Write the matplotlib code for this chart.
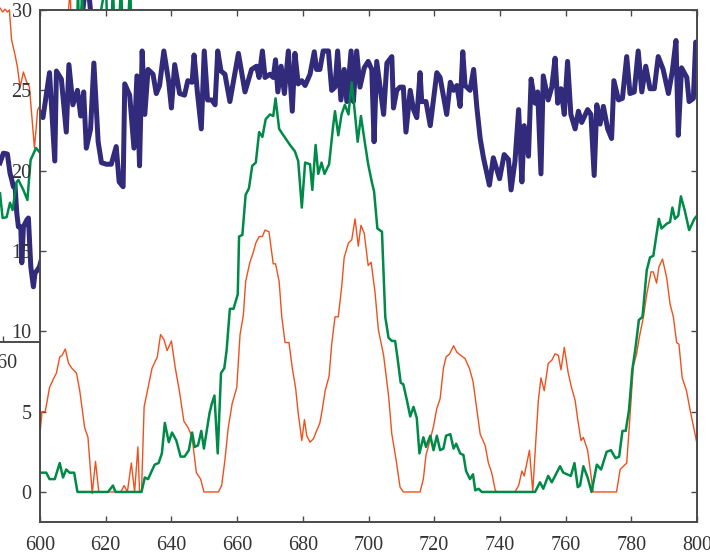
import matplotlib.pyplot as plt

plt.rcParams['font.family'] = ['Liberation Serif', 'DejaVu Serif']

# --- zoomed window (600-800) ---
blue_x = [600.0, 600.9, 602.9, 604.5, 605.0, 606.5, 608.0, 608.8, 610.0, 611.4, 612.4, 613.3,
          614.1, 615.4, 616.4, 617.7, 618.7, 620.2, 621.7, 623.2, 624.1, 625.3, 625.8, 627.3,
          628.6, 629.5, 630.3, 631.1, 631.9, 632.9, 634.4, 635.4, 636.4, 637.7, 639.2, 640.0,
          641.0, 642.5, 644.0, 645.0, 646.3, 646.9, 647.9, 649.1, 650.0, 651.0, 652.3, 653.3,
          654.1, 655.1, 656.3, 657.8, 660.4, 662.4, 664.4, 665.9, 666.7, 667.7, 668.5, 670.0,
          671.0, 671.7, 672.4, 673.4, 674.4, 675.6, 676.8, 677.6, 678.6, 679.7, 680.7, 682.2,
          683.5, 684.2, 685.2, 686.2, 687.8, 688.8, 689.8, 690.6, 691.6, 692.6, 693.4, 694.7,
          695.4, 696.4, 697.4, 698.7, 699.9, 701.0, 701.7, 702.5, 704.6, 705.6, 707.1, 707.6,
          708.6, 709.6, 710.6, 711.4, 712.7, 713.7, 714.7, 715.7, 716.2, 717.5, 718.8, 720.8,
          721.8, 723.8, 724.9, 725.9, 726.9, 727.9, 728.7, 729.4, 730.9, 732.0, 733.0, 734.0,
          735.0, 736.8, 738.0, 739.9, 741.3, 742.6, 743.4, 744.6, 745.7, 746.7, 747.4, 748.7,
          749.5, 750.7, 751.5, 752.5, 753.2, 754.7, 755.8, 756.8, 757.6, 758.6, 759.6, 760.6,
          761.6, 762.9, 763.9, 764.9, 766.7, 767.7, 768.7, 769.5, 770.5, 771.5, 772.8, 774.0,
          774.7, 776.1, 777.3, 778.6, 779.6, 780.9, 782.1, 783.2, 784.4, 785.7, 787.0, 788.2,
          789.7, 791.3, 792.5, 793.6, 794.3, 795.3, 796.9, 797.6, 798.9, 799.6, 800.0]
blue_y = [23.6, 23.3, 26.1, 20.6, 26.2, 25.7, 22.4, 26.6, 24.1, 25.0, 23.4, 24.9,
          21.4, 22.6, 26.7, 21.8, 20.5, 20.4, 20.4, 21.5, 19.3, 19.0, 25.4, 24.7,
          21.4, 25.9, 20.3, 27.45, 23.5, 26.3, 26.0, 24.8, 25.3, 27.45, 25.5, 23.9,
          26.6, 24.8, 24.7, 25.6, 25.5, 27.2, 24.9, 22.6, 27.45, 24.4, 24.4, 24.1,
          27.45, 26.2, 26.0, 24.3, 27.3, 24.9, 26.3, 26.5, 25.8, 27.45, 25.8, 26.0,
          25.8, 26.9, 24.9, 26.5, 24.8, 27.45, 23.7, 27.3, 25.4, 25.6, 25.3, 26.0,
          27.4, 26.3, 26.3, 27.45, 27.45, 25.0, 25.2, 27.45, 24.4, 26.3, 24.3, 27.45,
          24.3, 27.45, 25.2, 26.4, 26.8, 26.3, 21.8, 26.8, 23.5, 26.7, 27.1, 23.9,
          25.0, 25.2, 25.2, 22.4, 25.0, 23.8, 23.3, 26.1, 24.3, 24.3, 22.8, 26.1,
          25.8, 23.5, 25.5, 25.0, 25.3, 24.0, 27.4, 25.3, 25.0, 26.3, 23.9, 22.0,
          20.8, 19.1, 20.8, 19.5, 21.0, 20.7, 18.8, 20.6, 23.8, 19.3, 22.8, 20.9,
          25.7, 24.2, 24.9, 19.8, 25.9, 24.4, 25.2, 27.0, 24.2, 25.1, 23.5, 26.8,
          23.5, 22.6, 23.7, 23.0, 23.8, 23.5, 19.7, 24.1, 22.9, 24.0, 22.6, 22.0,
          25.6, 24.4, 24.5, 27.1, 24.8, 24.9, 27.45, 24.9, 26.5, 25.1, 25.1, 27.1,
          26.3, 24.8, 26.2, 28.1, 22.2, 26.4, 25.8, 24.3, 24.5, 28.0, 28.0]

green_x = [600.0, 601.9, 602.9, 604.5, 606.0, 607.0, 608.0, 609.0, 610.4, 611.4, 620.7, 622.2,
           623.0, 630.9, 631.9, 632.9, 634.9, 636.1, 637.1, 638.0, 639.2, 640.2, 641.5, 642.8,
           644.0, 645.3, 646.3, 647.1, 648.1, 649.1, 649.9, 651.6, 652.3, 653.1, 654.1, 655.1,
           656.1, 656.8, 657.8, 658.9, 660.2, 660.6, 661.6, 662.6, 663.6, 664.6, 665.7, 666.7,
           667.7, 668.7, 670.0, 671.0, 671.7, 672.8, 674.1, 676.1, 677.6, 678.6, 679.7, 680.7,
           682.2, 682.9, 683.9, 684.7, 685.7, 686.6, 688.0, 689.3, 689.8, 690.8, 691.8, 692.8,
           693.9, 694.9, 695.9, 696.7, 697.7, 698.7, 699.9, 701.0, 701.7, 702.7, 704.1, 705.1,
           706.1, 707.1, 708.1, 708.8, 709.8, 710.6, 711.7, 712.7, 713.7, 714.7, 715.5, 716.7,
           717.5, 718.8, 719.8, 720.8, 721.8, 722.8, 723.6, 724.9, 725.9, 726.7, 727.9, 728.9,
           729.7, 730.9, 731.8, 732.5, 733.5, 734.5, 750.7, 752.2, 753.2, 754.7, 755.8, 756.8,
           758.3, 759.3, 761.6, 762.7, 763.7, 764.4, 765.4, 766.7, 767.9, 769.5, 770.8, 772.5,
           773.8, 775.2, 776.3, 777.3, 778.3, 779.3, 780.3, 781.3, 782.3, 783.4, 784.7, 785.7,
           786.7, 788.4, 789.2, 790.8, 791.8, 792.5, 793.3, 794.3, 795.1, 796.3, 797.6, 799.2,
           800.0]
green_y = [1.2, 1.2, 0.8, 0.8, 1.8, 0.9, 1.4, 1.2, 1.2, 0.0, 0.0, 0.4,
           0.0, 0.0, 0.9, 0.8, 1.7, 1.8, 2.4, 4.3, 3.1, 3.7, 3.2, 2.2,
           2.2, 2.6, 3.7, 2.8, 2.9, 3.8, 2.7, 4.9, 5.5, 6.0, 2.4, 7.4,
           7.7, 8.8, 11.4, 11.4, 12.3, 15.9, 16.0, 18.5, 18.9, 20.3, 20.5, 22.4,
           22.1, 23.2, 23.5, 23.4, 24.5, 22.6, 22.2, 21.6, 21.2, 20.6, 17.7, 20.5,
           20.4, 18.8, 21.6, 19.8, 20.5, 19.8, 20.4, 22.9, 23.7, 22.2, 23.5, 24.1,
           23.5, 25.5, 23.5, 21.8, 23.4, 22.0, 20.4, 19.3, 18.7, 16.4, 16.2, 10.9,
           9.6, 9.4, 9.4, 8.4, 6.8, 6.7, 5.7, 4.7, 5.3, 4.6, 2.4, 3.4,
           2.8, 3.5, 2.6, 3.5, 2.6, 2.7, 3.5, 3.6, 2.7, 3.0, 2.4, 2.3,
           1.3, 0.8, 1.1, 0.1, 0.2, 0.0, 0.0, 0.6, 0.2, 1.0, 0.6, 1.0,
           1.6, 1.2, 1.0, 1.8, 0.3, 0.4, 1.6, 0.9, 0.0, 1.7, 1.4, 2.5,
           2.6, 2.1, 2.2, 3.8, 3.8, 5.1, 7.6, 9.0, 10.7, 10.9, 13.8, 14.6,
           14.7, 17.0, 16.4, 16.7, 16.8, 17.7, 17.0, 17.2, 18.4, 17.5, 16.3, 17.0,
           17.2]

orange_x = [600.0, 600.6, 601.6, 602.9, 604.0, 605.0, 606.0, 606.7, 607.7, 608.7, 609.7, 611.1,
            612.1, 613.6, 614.6, 615.9, 616.9, 617.9, 624.6, 625.6, 626.6, 627.8, 628.8, 629.8,
            630.3, 630.9, 631.7, 632.9, 634.1, 635.7, 636.7, 637.7, 638.7, 640.0, 641.2, 642.5,
            643.8, 645.1, 646.3, 647.6, 648.9, 649.9, 654.3, 655.3, 656.3, 657.3, 658.5, 659.9,
            660.9, 661.9, 662.6, 663.9, 664.9, 665.7, 666.7, 667.7, 668.5, 669.7, 671.0, 671.7,
            672.8, 673.6, 674.6, 675.8, 676.8, 677.8, 678.6, 679.7, 680.5, 681.2, 682.2, 683.2,
            684.2, 685.2, 685.9, 686.8, 688.0, 688.8, 689.8, 690.8, 691.8, 692.6, 693.9, 694.9,
            695.9, 696.9, 697.7, 698.7, 699.9, 700.8, 702.0, 703.0, 704.6, 706.1, 707.1, 708.4,
            709.6, 710.6, 715.7, 716.7, 717.5, 718.6, 719.8, 720.8, 721.8, 722.8, 723.6, 724.7,
            725.9, 726.9, 728.1, 729.4, 730.7, 731.8, 733.0, 734.0, 735.5, 736.5, 737.5, 738.6,
            739.1, 744.6, 745.7, 746.7, 747.4, 749.0, 750.0, 750.7, 751.7, 752.5, 753.5, 754.7,
            755.8, 756.8, 757.8, 758.6, 759.6, 760.8, 761.8, 762.9, 763.7, 764.7, 765.4, 766.7,
            768.4, 775.5, 776.6, 778.6, 779.6, 780.6, 781.6, 782.6, 783.7, 784.7, 786.0, 786.7,
            787.7, 788.4, 789.5, 790.8, 791.8, 792.8, 793.8, 794.5, 795.5, 796.8, 797.9, 800.0]
orange_y = [3.6, 5.0, 5.0, 6.5, 7.0, 7.4, 8.4, 8.5, 8.9, 8.0, 7.7, 7.4,
            6.3, 4.0, 3.4, -0.1, 1.9, 0.0, 0.0, 0.4, 0.0, 1.8, 0.0, 2.8,
            0.0, 0.0, 5.3, 6.5, 7.7, 8.4, 9.8, 9.5, 8.8, 9.4, 7.7, 6.2,
            4.4, 4.0, 3.4, 1.2, 0.8, 0.0, 0.0, 0.4, 2.0, 4.0, 5.5, 6.5,
            9.8, 11.0, 13.1, 14.3, 14.9, 15.5, 15.9, 15.9, 16.3, 16.2, 14.2, 14.2,
            13.1, 10.9, 9.3, 9.3, 7.7, 6.5, 4.9, 3.2, 4.5, 3.5, 3.1, 3.3,
            3.8, 4.3, 5.1, 6.3, 7.2, 9.2, 10.9, 10.9, 12.7, 14.6, 15.5, 15.7,
            17.0, 15.3, 16.6, 16.1, 14.1, 14.3, 12.4, 10.1, 8.5, 6.0, 3.6, 2.0,
            0.3, 0.0, 0.0, 0.8, 2.3, 3.1, 4.1, 5.2, 5.8, 7.7, 8.4, 8.6,
            9.1, 8.7, 8.5, 8.3, 7.7, 6.9, 5.1, 3.6, 2.9, 1.8, 1.2, 0.1,
            0.0, 0.0, 0.4, 1.3, 1.0, 2.6, 0.0, 2.4, 5.7, 7.1, 6.3, 8.0,
            8.2, 8.6, 8.5, 7.6, 9.0, 7.4, 6.5, 5.7, 4.5, 3.2, 3.4, 2.6,
            0.0, 0.0, 1.4, 1.8, 4.7, 7.8, 8.6, 9.8, 10.9, 12.3, 13.7, 13.7,
            13.0, 14.0, 14.5, 13.3, 11.7, 10.9, 9.3, 9.2, 7.1, 6.3, 5.1, 3.0]

# --- full view behind the zoom window (only its edge shows) ---
bg_ticks = [560, 600]
bg_blue_x = [558.5, 560.2, 562.2, 563.5, 564.4, 565.2, 566.0, 566.9, 567.7, 568.9, 569.4, 570.2,
             571.9, 572.7, 573.9, 575.2, 576.0, 577.2, 578.2, 590.0, 602.0, 612.0, 700.0]
bg_blue_y = [22.4, 23.6, 23.5, 21.1, 20.25, 19.4, 19.6, 16.1, 14.4, 14.4, 9.9, 14.4,
             15.25, 15.5, 9.4, 6.9, 8.6, 9.0, 9.4, 20.0, 46.0, 20.0, 20.0]
bg_green_x = [558.5, 559.8, 561.8, 563.5, 564.8, 566.8, 567.7, 570.2, 572.2, 573.8, 576.5, 578.2,
              590.0, 596.5, 597.5, 598.5, 599.5, 601.0, 611.5, 613.0, 615.0, 616.5, 619.0, 621.0,
              623.5, 625.5, 700.0]
bg_green_y = [18.6, 15.5, 15.6, 17.4, 16.5, 20.0, 20.25, 19.0, 17.75, 22.75, 24.25, 23.75,
              25.0, 30.0, 45.0, 30.0, 45.0, 30.0, 45.0, 30.0, 45.0, 30.0, 45.0, 30.0,
              45.0, 30.0, 15.0]
bg_orange_x = [558.5, 559.8, 561.0, 562.2, 563.2, 564.3, 566.0, 567.2, 568.2, 568.8, 570.2, 571.8,
               573.2, 574.3, 575.7, 576.5, 577.3, 578.2, 586.0, 593.5, 597.0, 700.0]
bg_orange_y = [41.75, 41.25, 41.6, 41.25, 41.5, 37.75, 35.9, 34.4, 32.5, 32.1, 33.75, 32.5,
               31.9, 28.6, 24.25, 26.5, 29.0, 29.4, 17.75, 44.0, 24.0, 10.0]

BLUE = '#322a7a'
GREEN = '#008a48'
ORANGE = '#f0501c'
SPINE = '#4a4a4a'
TXT = '#333333'

W, H = 710, 554


def box(left, top, right, bottom):
    # pixel box -> figure fraction [l, b, w, h]
    return [left / W, 1 - bottom / H, (right - left) / W, (bottom - top) / H]


fig = plt.figure(figsize=(W / 100, H / 100), dpi=100)
fig.patch.set_facecolor('white')

# background (full) axes
bg = fig.add_axes(box(-400, -200, 697, 342))
bg.set_xlim(358.5, 907)
bg.set_ylim(0, 67.75)
bg.plot(bg_blue_x, bg_blue_y, color=BLUE, lw=3.6)
bg.plot(bg_orange_x, bg_orange_y, color=ORANGE, lw=1.0)
bg.plot(bg_green_x, bg_green_y, color=GREEN, lw=1.8)
for s in ['left', 'top', 'right']:
    bg.spines[s].set_visible(False)
bg.spines['bottom'].set_color(SPINE)
bg.spines['bottom'].set_linewidth(1.4)
bg.set_xticks(bg_ticks)
bg.set_yticks([])
bg.tick_params(axis='x', direction='in', length=4, width=1, color=SPINE,
               labelsize=14.5, labelcolor=TXT, pad=9)

# zoom axes on top
ax = fig.add_axes(box(40, 10, 697, 522), facecolor='white')
ax.plot(blue_x, blue_y, color=BLUE, lw=3.6)
ax.plot(orange_x, orange_y, color=ORANGE, lw=1.0)
ax.plot(green_x, green_y, color=GREEN, lw=1.8)
ax.set_xlim(600, 800)
ax.set_ylim(-1.87, 30)
ax.set_xticks(range(600, 801, 20))
ax.set_yticks(range(0, 31, 5))
for s in ax.spines.values():
    s.set_color(SPINE)
    s.set_linewidth(1.4)
ax.tick_params(direction='in', top=True, right=True, length=4, width=1, color=SPINE,
               labelsize=14.5, labelcolor=TXT)
ax.tick_params(axis='x', pad=10)
ax.tick_params(axis='y', pad=6)

fig.savefig('out.png', dpi=100)
